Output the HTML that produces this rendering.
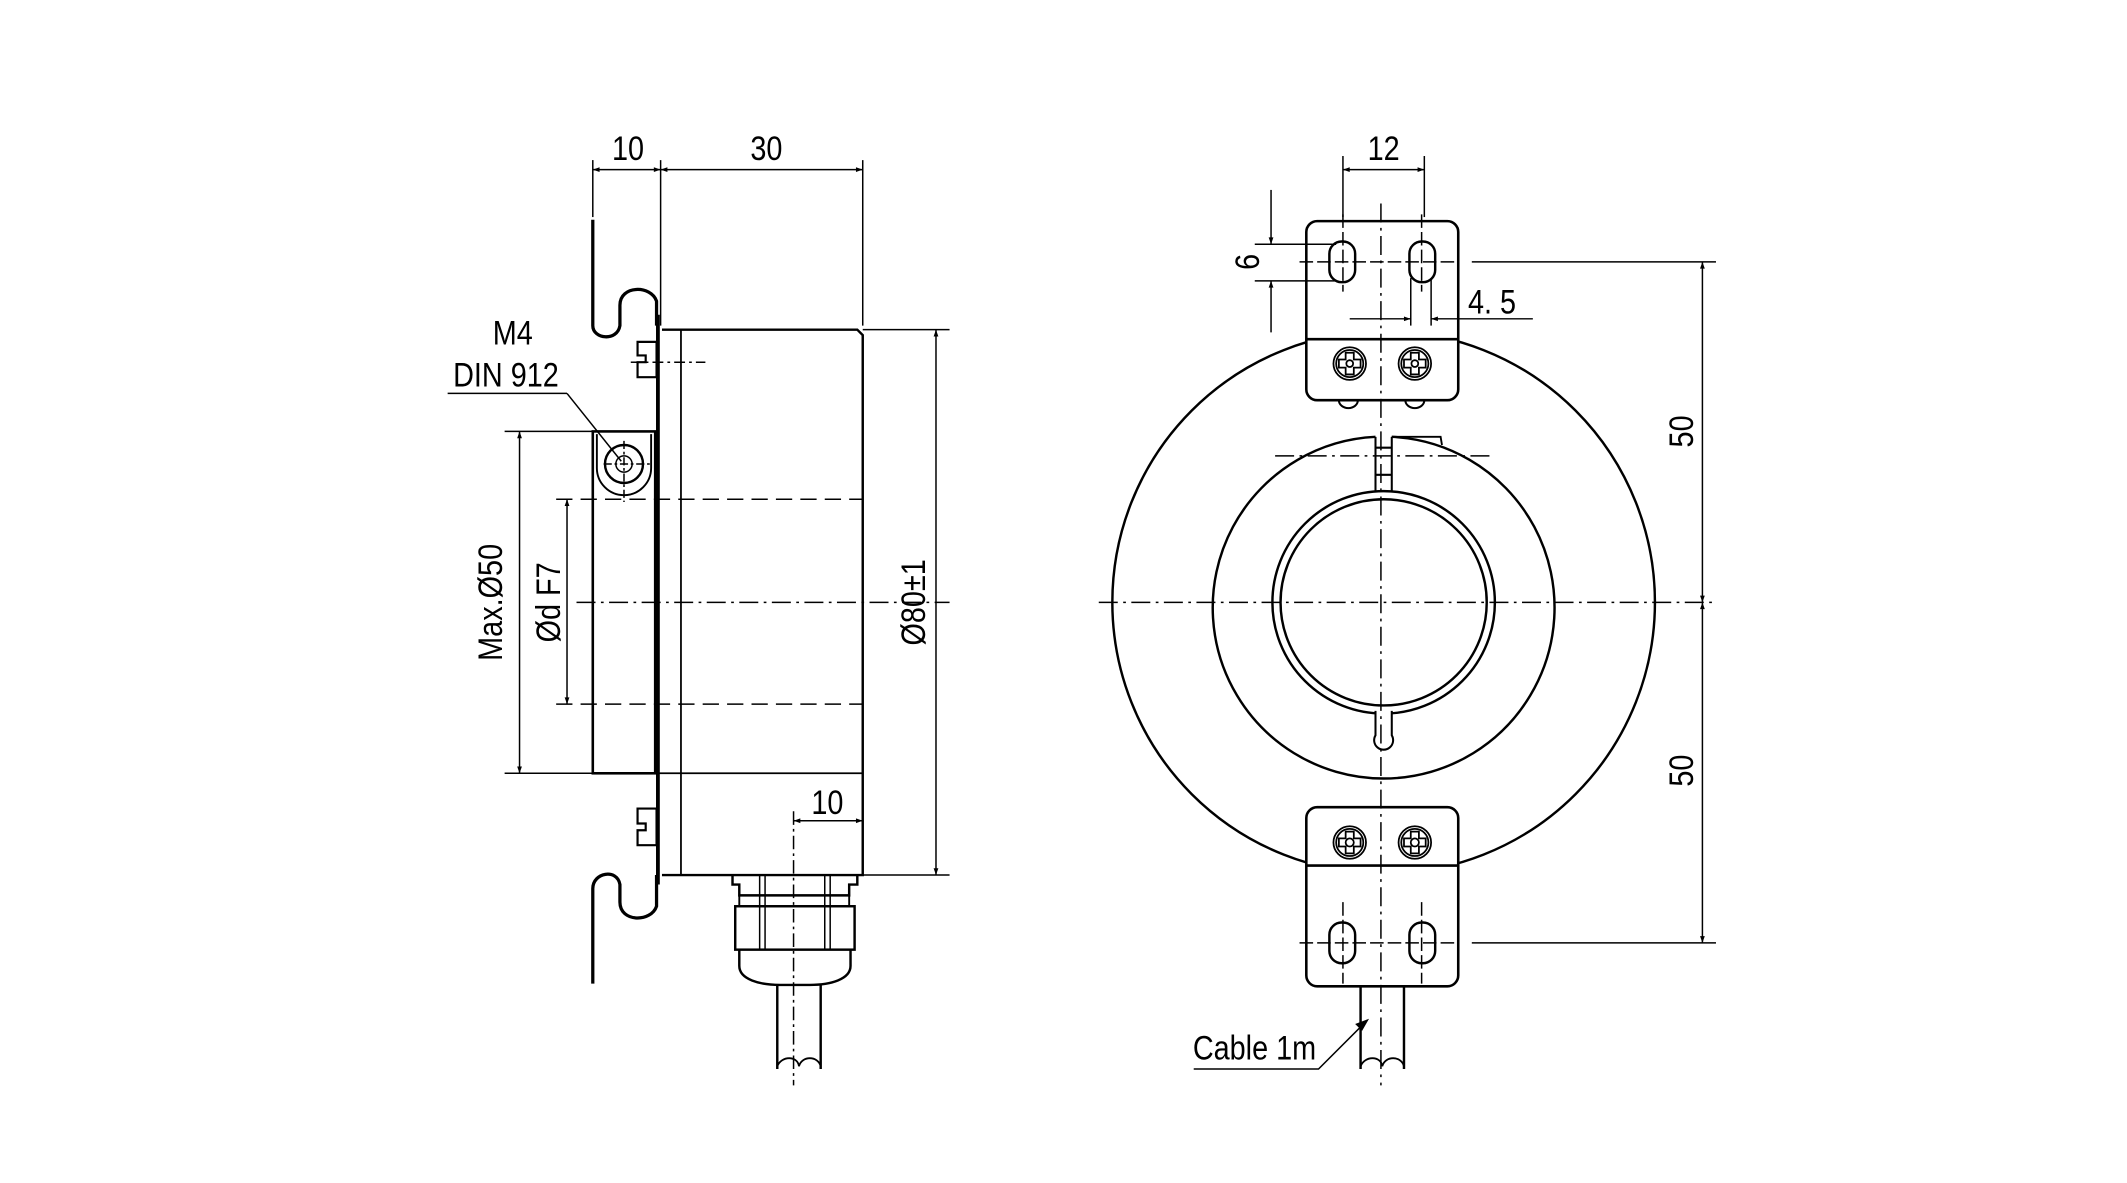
<!DOCTYPE html>
<html><head><meta charset="utf-8"><style>
html,body{margin:0;padding:0;background:#fff;}
svg{display:block;}
text{font-family:"Liberation Sans",sans-serif;fill:#000;}
</style></head><body>
<svg width="2127" height="1183" viewBox="0 0 1568 872" preserveAspectRatio="none" xmlns="http://www.w3.org/2000/svg">
<defs>
<marker id="a" viewBox="0 0 10 10" refX="10" refY="5" markerWidth="10" markerHeight="5" orient="auto-start-reverse" markerUnits="userSpaceOnUse"><path d="M0,1.5 L10,5 L0,8.5 z" fill="#000"/></marker>
</defs>
<g fill="none" stroke="#000" stroke-width="1.1">
<!-- ===== LEFT VIEW ===== -->
<line x1="437" y1="118" x2="437" y2="160"/>
<line x1="487" y1="118" x2="487" y2="240"/>
<line x1="636" y1="118" x2="636" y2="240"/>
<line x1="437" y1="125" x2="487" y2="125" marker-start="url(#a)" marker-end="url(#a)"/>
<line x1="487" y1="125" x2="636" y2="125" marker-start="url(#a)" marker-end="url(#a)"/>
<path d="M437,162 V240 C437,250 455,252 457,240 V225 C457,210 480,210 484,222 V240" stroke-width="2.4"/>
<path d="M437,725 V655 C437,643 455,640 457,652 V665 C457,680 480,680 484,668 V645" stroke-width="2.4"/>
<line x1="485" y1="232" x2="485" y2="652" stroke-width="2.8"/>
<path d="M488,243 H632 L636,247 V645 H488" stroke-width="1.8"/>
<line x1="502" y1="243" x2="502" y2="645" stroke-width="1.3"/>
<path d="M484,252 H470 V262 H476 V267 H470 V278 H484 Z" stroke-width="1.6"/>
<line x1="465" y1="267" x2="520" y2="267" stroke-dasharray="8,3,2,3"/>
<path d="M484,596 H470 V607 H476 V612 H470 V623 H484 Z" stroke-width="1.6"/>
<rect x="437" y="318" width="46" height="252" stroke-width="1.9"/>
<path d="M440,320 V345 A18,18 0 0 0 480,345 V320" stroke-width="1.4"/>
<circle cx="460" cy="342" r="14" stroke-width="1.8"/>
<circle cx="460" cy="342" r="6"/>
<line x1="445" y1="342" x2="480" y2="342" stroke-dasharray="6,2,2,2"/>
<line x1="460" y1="325" x2="460" y2="370" stroke-dasharray="6,2,2,2"/>
<line x1="410" y1="368" x2="636" y2="368" stroke-dasharray="12,6"/>
<line x1="410" y1="519" x2="636" y2="519" stroke-dasharray="12,6"/>
<line x1="425" y1="444" x2="700" y2="444" stroke-dasharray="14,4,2,4"/>
<line x1="483" y1="570" x2="636" y2="570" stroke-width="1.3"/>
<line x1="372" y1="318" x2="437" y2="318"/>
<line x1="372" y1="570" x2="437" y2="570"/>
<line x1="383" y1="318" x2="383" y2="570" marker-start="url(#a)" marker-end="url(#a)"/>
<line x1="418" y1="368" x2="418" y2="519" marker-start="url(#a)" marker-end="url(#a)"/>
<line x1="636" y1="243" x2="700" y2="243"/>
<line x1="636" y1="645" x2="700" y2="645"/>
<line x1="690" y1="243" x2="690" y2="645" marker-start="url(#a)" marker-end="url(#a)"/>
<line x1="330" y1="290" x2="418" y2="290"/>
<line x1="418" y1="290" x2="458" y2="340"/>
<path d="M540,645 V652 H545 V660 H626 V652 H632 V645" stroke-width="1.8"/>
<rect x="545" y="660" width="81" height="8" stroke-width="1.4"/>
<rect x="542" y="668" width="88" height="32" stroke-width="1.8"/>
<path d="M545,700 V712 C545,722 560,726 575,726 H597 C612,726 627,722 627,712 V700" stroke-width="1.8"/>
<line x1="560" y1="645" x2="560" y2="700"/><line x1="612" y1="645" x2="612" y2="700"/>
<line x1="564" y1="645" x2="564" y2="700"/><line x1="608" y1="645" x2="608" y2="700"/>
<path d="M573,726 V788 M605,726 V788" stroke-width="1.8"/>
<path d="M573,786 C576,778 588,778 589,786 C591,778 603,778 605,786" stroke-width="1.3"/>
<line x1="585" y1="598" x2="585" y2="800" stroke-dasharray="10,3,2,3"/>
<line x1="585" y1="605" x2="636" y2="605" marker-start="url(#a)" marker-end="url(#a)"/>

<!-- ===== RIGHT VIEW ===== -->
<circle cx="1020" cy="444" r="200" stroke-width="1.8"/>
<path d="M1014,322 A126,126 0 1 0 1026,322" stroke-width="1.8" fill="#fff"/>
<path d="M1014,322 V362 M1026,322 V362 M1014,330 H1026 M1014,350 H1026" stroke-width="1.5"/>
<path d="M1026,322 L1062,322 L1063,328" stroke-width="1.4"/>
<circle cx="1020" cy="444" r="82" stroke-width="1.8"/>
<circle cx="1020" cy="444" r="76" stroke-width="1.8"/>
<path d="M1014,524 V542 A7,7 0 1 0 1026,542 V524" stroke-width="1.5" fill="#fff"/>
<line x1="810" y1="444" x2="1265" y2="444" stroke-dasharray="14,4,2,4"/>
<line x1="940" y1="336" x2="1100" y2="336" stroke-dasharray="14,4,2,4"/>
<rect x="963" y="163" width="112" height="132" rx="8" stroke-width="1.9" fill="#fff"/>
<line x1="963" y1="250" x2="1075" y2="250" stroke-width="1.9"/>
<rect x="980" y="178" width="19" height="30" rx="9" stroke-width="1.8"/>
<rect x="1039" y="178" width="19" height="30" rx="9" stroke-width="1.8"/>
<path d="M987,295 A6,5 0 0 0 1001,295 M1036,295 A6,5 0 0 0 1050,295" stroke-width="1.5"/>
<rect x="963" y="595" width="112" height="132" rx="8" stroke-width="1.9" fill="#fff"/>
<line x1="963" y1="638" x2="1075" y2="638" stroke-width="1.9"/>
<rect x="980" y="680" width="19" height="30" rx="9" stroke-width="1.8"/>
<rect x="1039" y="680" width="19" height="30" rx="9" stroke-width="1.8"/>
<line x1="1018" y1="150" x2="1018" y2="800" stroke-dasharray="14,4,2,4"/>
<line x1="990" y1="158" x2="990" y2="215" stroke-dasharray="10,3"/>
<line x1="1048" y1="158" x2="1048" y2="215" stroke-dasharray="10,3"/>
<line x1="990" y1="665" x2="990" y2="725" stroke-dasharray="10,3"/>
<line x1="1048" y1="665" x2="1048" y2="725" stroke-dasharray="10,3"/>
<line x1="958" y1="193" x2="1075" y2="193" stroke-dasharray="10,3"/>
<line x1="958" y1="695" x2="1075" y2="695" stroke-dasharray="10,3"/>
<g stroke-width="1.3">
<circle cx="995" cy="268" r="12"/><circle cx="995" cy="268" r="10"/>
<path d="M992,260 H998 V265 H1003 V271 H998 V276 H992 V271 H987 V265 H992 Z"/><circle cx="995" cy="268" r="2.5"/>
<circle cx="1043" cy="268" r="12"/><circle cx="1043" cy="268" r="10"/>
<path d="M1040,260 H1046 V265 H1051 V271 H1046 V276 H1040 V271 H1035 V265 H1040 Z"/><circle cx="1043" cy="268" r="2.5"/>
<circle cx="995" cy="621" r="12"/><circle cx="995" cy="621" r="10"/>
<path d="M992,613 H998 V618 H1003 V624 H998 V629 H992 V624 H987 V618 H992 Z"/><circle cx="995" cy="621" r="3"/>
<circle cx="1043" cy="621" r="12"/><circle cx="1043" cy="621" r="10"/>
<path d="M1040,613 H1046 V618 H1051 V624 H1046 V629 H1040 V624 H1035 V618 H1040 Z"/><circle cx="1043" cy="621" r="3"/>
</g>
<path d="M1003,727 V788 M1035,727 V788" stroke-width="1.8"/>
<path d="M1003,786 C1006,778 1018,778 1019,786 C1021,778 1033,778 1035,786" stroke-width="1.3"/>
<line x1="990" y1="115" x2="990" y2="160"/>
<line x1="1050" y1="115" x2="1050" y2="160"/>
<line x1="990" y1="125" x2="1050" y2="125" marker-start="url(#a)" marker-end="url(#a)"/>
<line x1="925" y1="180" x2="985" y2="180"/>
<line x1="925" y1="207" x2="985" y2="207"/>
<line x1="937" y1="140" x2="937" y2="180" marker-end="url(#a)"/>
<line x1="937" y1="245" x2="937" y2="207" marker-end="url(#a)"/>
<line x1="1040" y1="205" x2="1040" y2="240"/>
<line x1="1055" y1="205" x2="1055" y2="240"/>
<line x1="995" y1="235" x2="1040" y2="235" marker-end="url(#a)"/>
<line x1="1130" y1="235" x2="1055" y2="235" marker-end="url(#a)"/>
<line x1="1085" y1="193" x2="1265" y2="193"/>
<line x1="1085" y1="695" x2="1265" y2="695"/>
<line x1="1255" y1="193" x2="1255" y2="444" marker-start="url(#a)" marker-end="url(#a)"/>
<line x1="1255" y1="444" x2="1255" y2="695" marker-start="url(#a)" marker-end="url(#a)"/>
<path d="M880,788 H972 L1008,752"/>
<path d="M1008,752 l-8,3 l4,4 z" fill="#000"/>
</g>
<g font-size="25" transform="scale(0.85,1)">
<text x="544.7" y="118" text-anchor="middle">10</text>
<text x="664.7" y="118" text-anchor="middle">30</text>
<text x="444.7" y="254" text-anchor="middle">M4</text>
<text x="438.8" y="285" text-anchor="middle">DIN 912</text>
<text x="717.6" y="600" text-anchor="middle">10</text>
<text x="1200" y="118" text-anchor="middle">12</text>
<text x="1294" y="231" text-anchor="middle">4. 5</text>
<text x="1088" y="781" text-anchor="middle">Cable 1m</text>
</g>
<g font-size="25">
<text transform="translate(370,444) rotate(-90) scale(0.85,1)" text-anchor="middle">Max.Ø50</text>
<text transform="translate(413,444) rotate(-90) scale(0.85,1)" text-anchor="middle">Ød F7</text>
<text transform="translate(682,444) rotate(-90) scale(0.85,1)" text-anchor="middle">Ø80±1</text>
<text transform="translate(928,193) rotate(-90) scale(0.85,1)" text-anchor="middle">6</text>
<text transform="translate(1248,318) rotate(-90) scale(0.85,1)" text-anchor="middle">50</text>
<text transform="translate(1248,568) rotate(-90) scale(0.85,1)" text-anchor="middle">50</text>
</g>
</svg>
</body></html>
